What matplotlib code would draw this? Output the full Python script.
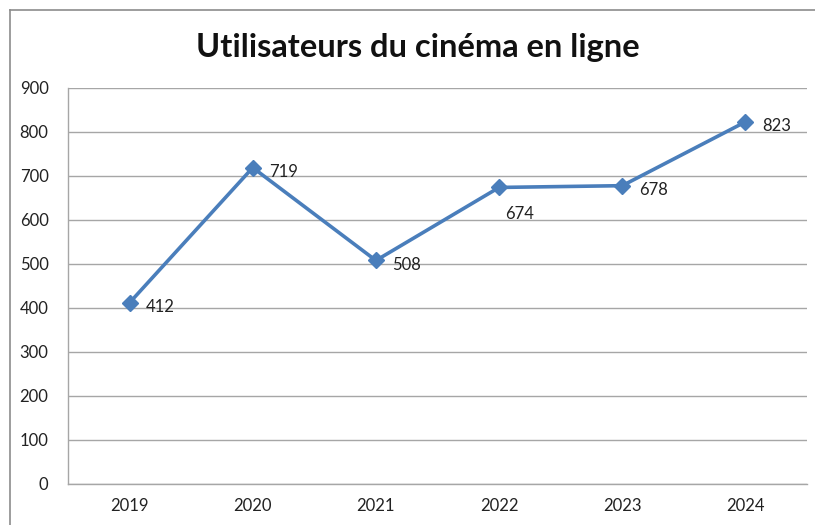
import matplotlib.pyplot as plt
from matplotlib.lines import Line2D

# Data
years = ['2019', '2020', '2021', '2022', '2023', '2024']
users = [412, 719, 508, 674, 678, 823]
y_ticks = [0, 100, 200, 300, 400, 500, 600, 700, 800, 900]

plt.rcParams['font.family'] = ['Lato', 'DejaVu Sans']

fig = plt.figure(figsize=(8.15, 5.25), dpi=100)
ax = fig.add_axes([68/815, 41/525, 739/815, 396/525])

# outer chart border (top and left edges visible)
grey = '#8c8c8c'
fig.add_artist(Line2D([10/815, 1], [1 - 10/525, 1 - 10/525], color=grey, lw=1.2))
fig.add_artist(Line2D([10/815, 10/815], [0, 1 - 10/525], color=grey, lw=1.2))

x = list(range(len(years)))
ax.plot(x, users, color='#4a7ebb', lw=2.6, marker='D', markersize=8.5,
        markerfacecolor='#4a7ebb', markeredgecolor='#4a7ebb', zorder=3)

# data labels
offsets = [(12, -9), (12, -9), (12, -9), (4, -25), (12, -9), (12, -9)]
for xi, v, off in zip(x, users, offsets):
    ax.annotate(str(v), (xi, v), xytext=off, textcoords='offset points',
                fontsize=12, color='#222222', ha='left', va='bottom')

ax.set_xlim(-0.5, len(years) - 0.5)
ax.set_ylim(0, 900)
ax.set_xticks(x)
ax.set_xticklabels(years)
ax.set_yticks(y_ticks)
ax.tick_params(axis='both', length=0, labelsize=12, colors='#222222')
ax.tick_params(axis='x', pad=10)
ax.tick_params(axis='y', pad=14)
ax.grid(axis='y', color='#a6a6a6', lw=1)
ax.set_axisbelow(True)
for s in ['top', 'right']:
    ax.spines[s].set_visible(False)
for s in ['left', 'bottom']:
    ax.spines[s].set_color('#a6a6a6')
    ax.spines[s].set_linewidth(1)

fig.text(418/815, 1 - 47/525, 'Utilisateurs du cinéma en ligne',
         ha='center', va='center', fontsize=23.5, fontweight='bold', color='#111111')

fig.savefig('out.png', dpi=100)
